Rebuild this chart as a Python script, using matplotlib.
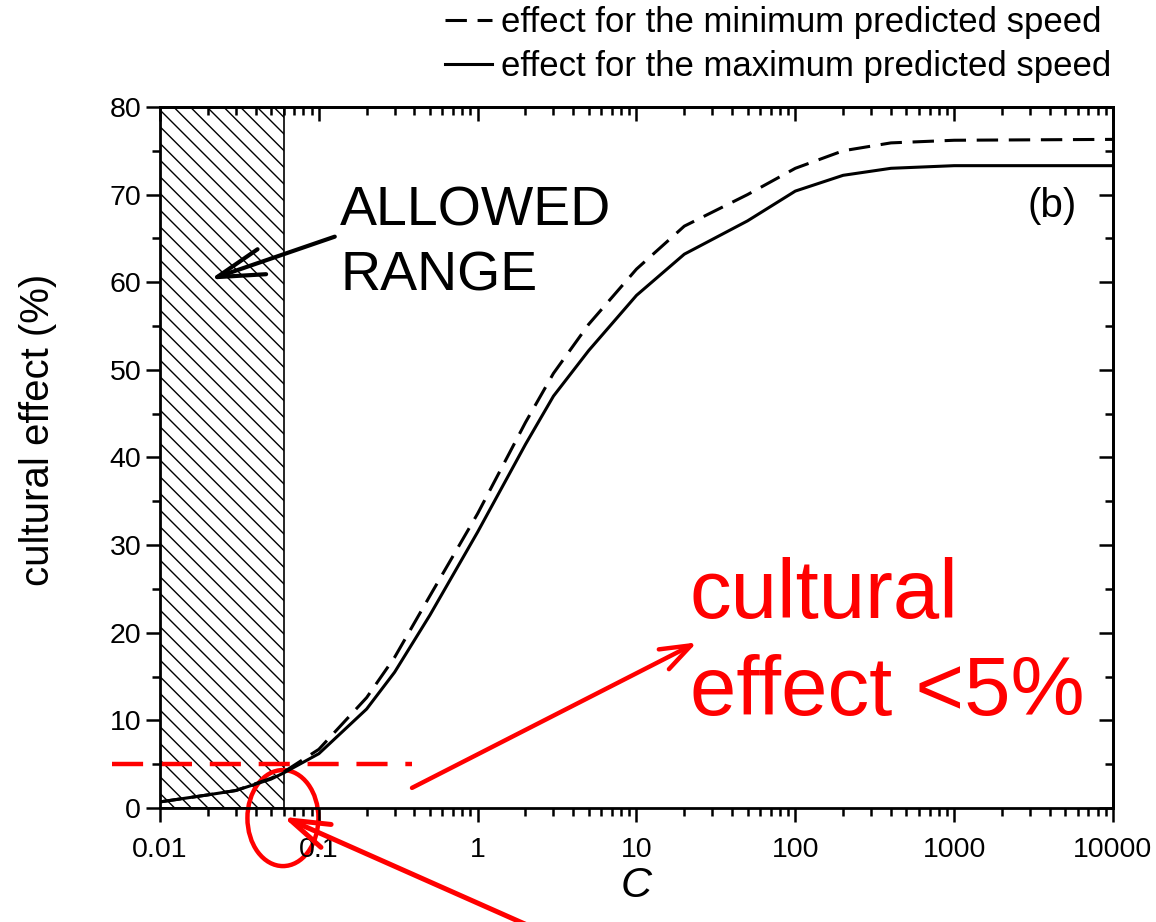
import matplotlib.pyplot as plt
from matplotlib.patches import Ellipse
from matplotlib.ticker import FixedLocator, LogLocator, NullFormatter, MultipleLocator

plt.rcParams['font.family'] = ['Liberation Sans', 'DejaVu Sans']
plt.rcParams['hatch.linewidth'] = 1.0

# data
c_vals = [0.01, 0.02, 0.03, 0.05, 0.06, 0.1, 0.2, 0.3, 0.5, 1, 2, 3, 5, 10, 20,
          50, 100, 200, 400, 1000, 10000]
effect_max = [0.7, 1.5, 2.0, 3.3, 4.0, 6.2, 11.3, 15.5, 22.0, 31.5, 41.5, 47.0,
              52.2, 58.5, 63.2, 67.0, 70.4, 72.2, 73.0, 73.3, 73.3]
effect_min = [0.7, 1.5, 2.0, 3.4, 4.1, 6.7, 12.6, 17.2, 24.2, 33.6, 44.0, 49.6,
              55.2, 61.5, 66.4, 70.0, 73.0, 75.0, 75.9, 76.2, 76.3]
allowed = (0.01, 0.06)
threshold = 5
xtick_vals = [0.01, 0.1, 1, 10, 100, 1000, 10000]
xtick_labels = ['0.01', '0.1', '1', '10', '100', '1000', '10000']

fig = plt.figure(figsize=(11.56, 9.22), dpi=100)
ax = fig.add_axes([0.1384, 0.1236, 0.8244, 0.7604])

ax.set_xscale('log')
ax.set_xlim(0.01, 10000)
ax.set_ylim(0, 80)

# hatched allowed region
ax.fill_betweenx([0, 80], allowed[0], allowed[1], facecolor='none',
                 edgecolor='black', hatch='\\\\', linewidth=1.2)

ax.plot(c_vals, effect_min, color='black', lw=2.2, dashes=(7, 3.5),
        label='effect for the minimum predicted speed')
ax.plot(c_vals, effect_max, color='black', lw=2.2,
        label='effect for the maximum predicted speed')

# red annotations
ax.plot([0.005, 0.386], [threshold, threshold], color='red', lw=3.2,
        dashes=(7, 4), clip_on=False)
ax.annotate('', xy=(24.0, 18.9), xytext=(0.386, 2.3),
            arrowprops=dict(arrowstyle='->,head_length=2.2,head_width=0.8',
                            mutation_scale=10, color='red', lw=3.2,
                            shrinkA=0, shrinkB=0))
ax.annotate('', xy=(0.0595, -1.0), xytext=(2.14, -13.5), annotation_clip=False,
            arrowprops=dict(arrowstyle='->,head_length=2.8,head_width=0.9',
                            mutation_scale=10, color='red', lw=3.6,
                            shrinkA=0, shrinkB=0))
ax.add_patch(Ellipse((0.129, -0.0143), 0.0745, 0.137, transform=ax.transAxes,
                     facecolor='none', edgecolor='red', lw=3.2, clip_on=False))
ax.text(21.7, 21.7, 'cultural', color='red', fontsize=60, va='baseline')
ax.text(21.7, 10.6, 'effect <5%', color='red', fontsize=60, va='baseline')

# allowed range label
ax.annotate('', xy=(0.0206, 60.3), xytext=(0.126, 65.2),
            arrowprops=dict(arrowstyle='->,head_length=3.4,head_width=0.95',
                            mutation_scale=10, color='black', lw=3.0,
                            shrinkA=0, shrinkB=0))
ax.text(0.136, 66.5, 'ALLOWED', fontsize=40, va='baseline')
ax.text(0.136, 59.0, 'RANGE', fontsize=40, va='baseline')
ax.text(0.962, 0.859, '(b)', transform=ax.transAxes, fontsize=29,
        ha='right', va='center')

# axes styling
for s in ax.spines.values():
    s.set_linewidth(2.0)
ax.xaxis.set_major_locator(FixedLocator(xtick_vals))
ax.set_xticklabels(xtick_labels)
ax.xaxis.set_minor_locator(LogLocator(base=10, subs=range(2, 10), numticks=20))
ax.xaxis.set_minor_formatter(NullFormatter())
ax.yaxis.set_major_locator(MultipleLocator(10))
ax.yaxis.set_minor_locator(MultipleLocator(5))
ax.tick_params(which='both', width=1.8, labelsize=20.5)
ax.tick_params(which='major', length=10)
ax.tick_params(which='minor', length=5.5)
ax.tick_params(axis='x', which='both', direction='out', top=False)
ax.tick_params(axis='y', which='both', direction='out', right=False)
ax.tick_params(axis='x', pad=11)

# inward ticks on top and right
sec_x = ax.secondary_xaxis('top')
sec_x.xaxis.set_major_locator(FixedLocator(xtick_vals))
sec_x.xaxis.set_minor_locator(LogLocator(base=10, subs=range(2, 10), numticks=20))
sec_x.tick_params(which='both', direction='in', width=1.8, labeltop=False)
sec_x.tick_params(which='major', length=10)
sec_x.tick_params(which='minor', length=5.5)
sec_y = ax.secondary_yaxis('right')
sec_y.yaxis.set_major_locator(MultipleLocator(10))
sec_y.yaxis.set_minor_locator(MultipleLocator(5))
sec_y.tick_params(which='both', direction='in', width=1.8, labelright=False)
sec_y.tick_params(which='major', length=10)
sec_y.tick_params(which='minor', length=5.5)
for sec in (sec_x, sec_y):
    for s in sec.spines.values():
        s.set_linewidth(2.0)

ax.set_xlabel('C', fontsize=31, style='italic', labelpad=2)
ax.set_ylabel('cultural effect (%)', fontsize=29)
ax.yaxis.set_label_coords(-0.108, 0.539)

fig.legend(loc='upper right', bbox_to_anchor=(0.988, 1.027), frameon=False,
           fontsize=25, handlelength=1.35, handletextpad=0.25, labelspacing=0.3)

fig.savefig('out.png', dpi=100)
